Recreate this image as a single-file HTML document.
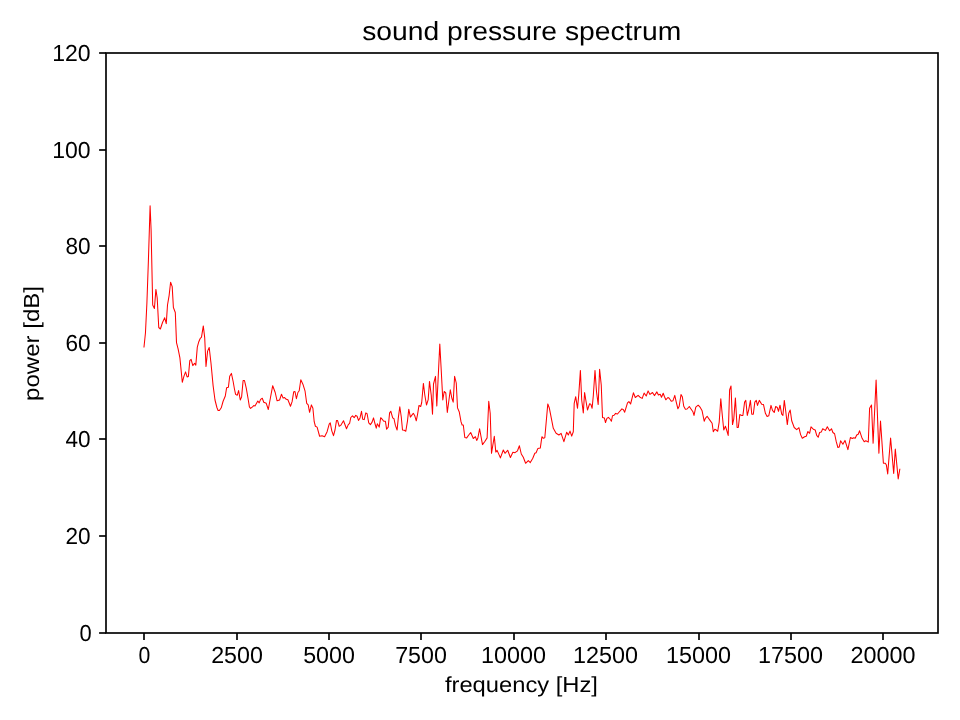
<!DOCTYPE html>
<html><head><meta charset="utf-8"><title>sound pressure spectrum</title>
<style>
html,body{margin:0;padding:0;background:#fff;}
body{width:960px;height:720px;overflow:hidden;}
svg{display:block;will-change:transform;}
text{font-family:"Liberation Sans", sans-serif;fill:#000;text-rendering:geometricPrecision;}
</style></head><body>
<svg width="960" height="720" viewBox="0 0 960 720">
<rect x="0" y="0" width="960" height="720" fill="#fff"/>
<polyline points="144.00,347.00 145.45,333.00 146.90,303.00 148.35,262.00 150.10,205.70 151.10,230.00 152.70,305.00 154.40,308.50 155.90,289.40 157.20,298.00 158.75,327.50 160.40,329.00 162.50,322.50 164.70,317.80 166.25,323.60 167.50,305.00 169.10,295.60 170.60,282.20 172.20,286.60 173.40,307.50 175.30,312.50 176.50,342.60 178.10,348.90 179.90,357.90 182.30,382.30 183.90,376.40 185.55,371.90 187.10,376.90 188.40,376.40 189.80,360.60 191.10,359.30 192.80,365.60 194.60,363.30 195.80,365.10 197.30,347.10 198.80,341.70 200.20,338.50 201.50,337.10 203.30,325.90 204.70,337.60 206.00,366.50 207.60,351.10 209.20,347.50 211.00,363.30 213.10,385.60 215.00,400.00 216.90,407.50 218.10,410.50 219.40,410.50 221.25,407.80 223.10,401.25 225.30,396.00 226.60,387.80 228.40,387.20 229.70,376.25 231.40,373.40 233.10,381.25 234.40,388.75 235.60,394.40 237.20,395.30 238.60,390.60 240.30,400.00 241.60,396.90 243.10,380.60 244.50,380.60 246.25,388.10 248.10,398.75 249.40,406.90 250.60,408.40 252.50,406.90 253.75,405.60 255.00,405.90 257.80,401.00 259.20,402.90 260.60,399.40 262.30,398.30 263.75,402.30 266.25,403.30 268.30,409.50 270.40,398.00 272.70,385.70 275.20,392.50 277.10,400.80 279.60,400.00 281.50,394.20 283.10,398.10 284.60,397.60 286.25,399.30 287.90,399.80 290.50,406.25 292.10,401.70 293.75,391.70 295.00,391.50 296.40,398.75 297.90,392.50 299.20,390.80 300.80,379.80 302.90,384.20 305.00,390.80 306.70,403.30 308.20,404.80 309.60,412.30 311.40,404.90 312.90,408.30 314.20,421.70 315.40,426.25 317.10,427.10 319.60,436.25 322.10,435.70 324.60,436.70 327.10,431.70 329.20,424.20 330.25,422.90 331.80,430.80 333.50,435.70 335.00,430.00 336.50,420.40 337.50,420.40 339.20,426.25 340.70,425.40 343.50,420.70 346.50,428.75 348.30,424.60 349.60,423.30 350.80,417.50 352.50,415.80 354.20,417.70 355.70,415.40 357.10,416.25 358.50,420.40 360.00,417.90 361.50,411.25 362.70,419.20 364.20,419.60 365.80,412.90 367.10,413.75 368.75,422.90 370.40,424.60 372.10,422.10 373.50,417.90 375.00,423.75 376.25,428.20 377.30,423.75 379.20,427.10 380.70,417.70 382.10,419.20 383.75,421.25 385.40,421.25 386.60,429.20 388.20,427.10 389.60,412.90 390.80,411.25 392.70,417.90 394.00,418.75 395.40,425.40 397.10,430.00 398.30,417.90 399.80,406.70 401.25,416.70 402.50,430.00 404.30,430.25 405.80,431.25 407.50,420.80 408.75,409.20 410.40,417.10 411.70,415.40 413.30,413.30 414.80,415.80 416.25,420.80 417.50,414.60 419.00,405.40 420.70,406.50 421.70,402.50 423.40,383.40 424.80,395.00 426.50,405.00 428.20,399.60 429.50,381.40 431.25,395.40 432.50,414.20 433.50,384.00 435.50,376.40 436.80,406.00 439.80,344.00 441.00,366.00 442.80,400.00 444.20,391.50 445.80,393.00 447.30,412.50 450.30,389.80 451.80,398.00 453.20,402.10 454.60,376.25 456.25,383.00 457.50,407.90 459.20,411.70 461.00,421.70 462.10,425.00 463.30,425.00 464.80,437.50 466.70,437.90 468.75,435.00 470.70,432.50 473.30,438.50 475.40,436.70 476.70,440.40 477.90,437.90 479.60,428.75 482.50,444.60 485.00,441.25 487.10,437.90 488.75,401.25 490.20,413.30 491.50,453.30 494.30,436.25 495.80,452.10 497.10,450.40 500.40,457.90 503.30,450.00 505.00,453.30 507.70,450.25 510.40,457.50 512.90,452.30 515.00,452.70 517.50,450.80 519.40,445.80 521.30,454.00 523.30,457.20 525.60,463.30 528.30,460.60 530.30,462.60 532.80,458.30 534.80,453.30 536.10,452.80 537.80,448.60 540.30,448.10 541.90,436.70 543.30,438.30 544.80,437.80 547.80,403.90 549.40,408.30 553.30,428.30 556.10,433.30 558.90,435.00 561.10,433.30 563.90,441.70 566.70,432.20 568.30,435.00 570.00,431.10 571.70,436.10 573.30,431.70 574.20,403.30 575.70,396.70 577.50,408.30 578.75,395.00 580.40,370.40 581.70,400.00 583.30,412.90 584.60,392.50 585.80,400.00 587.50,410.00 589.60,403.75 590.80,404.20 592.10,408.30 593.30,395.80 595.00,370.40 596.50,391.70 598.20,404.60 599.60,369.20 601.25,385.00 602.50,417.50 604.40,418.10 605.50,422.50 606.90,418.40 608.40,417.40 610.00,419.00 611.40,421.25 612.50,415.75 614.10,415.30 615.60,413.40 617.50,414.00 618.75,412.50 621.90,408.90 623.25,409.40 624.70,412.20 627.50,402.80 628.90,401.60 630.60,404.00 633.40,392.80 635.30,397.50 638.10,395.30 640.00,397.20 642.20,398.40 644.10,393.10 646.25,396.00 648.10,390.90 650.00,394.40 652.50,392.50 654.40,395.60 656.90,391.90 658.40,395.00 660.20,394.20 661.50,397.30 663.20,393.20 664.30,396.25 665.80,399.80 667.90,397.50 669.20,398.30 671.25,401.25 672.90,400.80 674.80,395.40 676.25,402.10 677.90,408.75 679.20,406.25 681.00,394.60 682.30,396.70 683.75,406.25 685.40,409.20 687.10,409.00 689.30,406.50 691.70,410.00 692.90,411.70 694.00,415.40 695.80,407.10 698.20,405.20 700.00,407.10 702.10,410.80 704.20,421.25 705.40,418.30 707.10,416.25 710.00,420.40 712.10,423.30 713.30,431.80 714.80,429.30 716.25,430.00 717.70,431.25 719.20,422.10 720.80,398.75 722.10,413.30 723.75,430.00 725.40,426.25 726.50,429.50 728.20,435.40 729.60,390.00 731.00,386.00 732.50,424.60 733.75,419.20 735.40,397.90 737.10,427.50 738.30,427.50 739.80,414.60 741.70,415.40 742.90,415.40 744.60,402.10 745.80,400.40 747.30,415.40 748.75,409.60 750.40,400.40 751.80,414.20 753.30,414.30 754.80,402.10 756.25,400.40 757.50,405.40 759.30,400.40 761.70,404.20 763.50,404.60 765.40,413.30 767.10,416.50 768.75,415.80 771.00,405.40 772.50,410.40 774.20,412.50 775.70,406.50 777.30,407.50 778.50,411.25 780.00,405.20 781.70,414.20 782.90,415.40 784.30,400.40 785.80,411.70 787.30,424.60 788.75,413.30 790.20,410.00 791.70,420.80 794.20,427.50 796.70,429.60 798.90,427.70 800.60,434.60 802.30,438.30 804.60,436.70 806.25,436.25 807.90,431.50 809.60,433.30 811.00,426.80 813.30,429.20 815.20,430.00 816.70,435.40 818.20,437.30 819.60,432.50 821.25,432.10 822.70,428.75 825.40,430.40 827.30,426.80 829.60,430.80 831.50,428.75 832.90,432.50 834.60,433.75 836.25,441.70 837.90,447.50 839.20,447.10 840.60,440.80 842.90,444.20 845.00,440.40 847.90,449.60 850.40,437.50 852.30,438.50 853.75,437.70 855.20,438.30 856.70,435.00 858.20,434.20 859.60,430.80 862.10,438.30 864.20,441.70 865.80,440.70 868.30,442.10 869.60,408.30 871.50,405.00 873.10,443.30 876.10,380.10 878.90,453.30 880.50,421.00 883.40,463.20 885.30,463.20 886.40,465.10 887.70,473.90 890.60,438.00 893.70,473.50 895.30,449.10 898.20,478.90 899.80,469.30" fill="none" stroke="#ff0000" stroke-width="1.04" stroke-linejoin="round" stroke-linecap="square"/>
<rect x="106.00" y="53.00" width="832.00" height="580.00" fill="none" stroke="#000" stroke-width="1.667" stroke-linejoin="miter"/>
<g stroke="#000" stroke-width="1.667">
<line x1="99.10" y1="633.00" x2="106.00" y2="633.00"/>
<line x1="99.10" y1="536.00" x2="106.00" y2="536.00"/>
<line x1="99.10" y1="439.00" x2="106.00" y2="439.00"/>
<line x1="99.10" y1="343.00" x2="106.00" y2="343.00"/>
<line x1="99.10" y1="246.00" x2="106.00" y2="246.00"/>
<line x1="99.10" y1="150.00" x2="106.00" y2="150.00"/>
<line x1="99.10" y1="53.00" x2="106.00" y2="53.00"/>
<line x1="144.00" y1="633.00" x2="144.00" y2="639.90"/>
<line x1="237.00" y1="633.00" x2="237.00" y2="639.90"/>
<line x1="329.00" y1="633.00" x2="329.00" y2="639.90"/>
<line x1="421.00" y1="633.00" x2="421.00" y2="639.90"/>
<line x1="514.00" y1="633.00" x2="514.00" y2="639.90"/>
<line x1="606.00" y1="633.00" x2="606.00" y2="639.90"/>
<line x1="699.00" y1="633.00" x2="699.00" y2="639.90"/>
<line x1="791.00" y1="633.00" x2="791.00" y2="639.90"/>
<line x1="883.00" y1="633.00" x2="883.00" y2="639.90"/>
</g>
<g>
<text x="91.6" y="640.60" text-anchor="end" font-size="23.2" textLength="12.20" lengthAdjust="spacingAndGlyphs">0</text>
<text x="90.6" y="543.60" text-anchor="end" font-size="23.2" textLength="25.10" lengthAdjust="spacingAndGlyphs">20</text>
<text x="90.6" y="446.60" text-anchor="end" font-size="23.2" textLength="25.10" lengthAdjust="spacingAndGlyphs">40</text>
<text x="90.6" y="350.60" text-anchor="end" font-size="23.2" textLength="25.10" lengthAdjust="spacingAndGlyphs">60</text>
<text x="90.6" y="253.60" text-anchor="end" font-size="23.2" textLength="25.10" lengthAdjust="spacingAndGlyphs">80</text>
<text x="90.6" y="157.60" text-anchor="end" font-size="23.2" textLength="38.40" lengthAdjust="spacingAndGlyphs">100</text>
<text x="90.6" y="60.60" text-anchor="end" font-size="23.2" textLength="38.40" lengthAdjust="spacingAndGlyphs">120</text>
<text x="144.40" y="662.9" text-anchor="middle" font-size="23.2" textLength="11.80" lengthAdjust="spacingAndGlyphs">0</text>
<text x="237.00" y="662.9" text-anchor="middle" font-size="23.2" textLength="51.70" lengthAdjust="spacingAndGlyphs">2500</text>
<text x="329.00" y="662.9" text-anchor="middle" font-size="23.2" textLength="51.70" lengthAdjust="spacingAndGlyphs">5000</text>
<text x="421.00" y="662.9" text-anchor="middle" font-size="23.2" textLength="51.70" lengthAdjust="spacingAndGlyphs">7500</text>
<text x="513.50" y="662.9" text-anchor="middle" font-size="23.2" textLength="65.00" lengthAdjust="spacingAndGlyphs">10000</text>
<text x="605.50" y="662.9" text-anchor="middle" font-size="23.2" textLength="65.00" lengthAdjust="spacingAndGlyphs">12500</text>
<text x="698.50" y="662.9" text-anchor="middle" font-size="23.2" textLength="65.00" lengthAdjust="spacingAndGlyphs">15000</text>
<text x="790.50" y="662.9" text-anchor="middle" font-size="23.2" textLength="65.00" lengthAdjust="spacingAndGlyphs">17500</text>
<text x="883.00" y="662.9" text-anchor="middle" font-size="23.2" textLength="65.00" lengthAdjust="spacingAndGlyphs">20000</text>
</g>
<text x="521.7" y="39.8" text-anchor="middle" font-size="26.2" textLength="319" lengthAdjust="spacingAndGlyphs">sound pressure spectrum</text>
<text x="521.4" y="691.6" text-anchor="middle" font-size="21.8" textLength="153" lengthAdjust="spacingAndGlyphs">frequency [Hz]</text>
<text transform="translate(38.5,343.5) rotate(-90)" x="0" y="0" text-anchor="middle" font-size="21.8" textLength="115" lengthAdjust="spacingAndGlyphs">power [dB]</text>
</svg>
</body></html>
